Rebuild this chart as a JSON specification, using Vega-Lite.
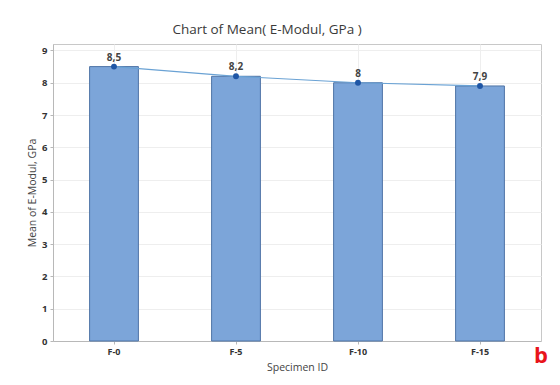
{
  "$schema": "https://vega.github.io/schema/vega-lite/v6.json",
  "width": 488,
  "height": 297,
  "autosize": {"type": "none"},
  "padding": {"left": 53, "top": 44, "right": 19, "bottom": 44},
  "background": "white",
  "title": {
    "text": "Chart of Mean( E-Modul, GPa )",
    "font": "Open Sans",
    "fontSize": 13.5,
    "fontWeight": "normal",
    "color": "#3a3a3a",
    "anchor": "middle",
    "dx": -30,
    "offset": 8
  },
  "data": {
    "values": [
      {"specimen": "F-0", "mean": 8.5},
      {"specimen": "F-5", "mean": 8.2},
      {"specimen": "F-10", "mean": 8.0},
      {"specimen": "F-15", "mean": 7.9}
    ]
  },
  "encoding": {
    "x": {
      "field": "specimen",
      "type": "nominal",
      "sort": null,
      "scale": {"paddingInner": 0.6, "paddingOuter": 0.3},
      "axis": {
        "title": "Specimen ID",
        "labelAngle": 0,
        "labelFont": "Open Sans",
        "labelFontSize": 9,
        "labelColor": "#333",
        "labelFontWeight": "bold",
        "titleFont": "Open Sans",
        "titleFontSize": 10.5,
        "titleFontWeight": "normal",
        "titleColor": "#444",
        "titlePadding": 6,
        "domainColor": "#b8b8b8",
        "tickColor": "#b8b8b8",
        "tickSize": 3,
        "labelPadding": 3,
        "grid": true,
        "gridColor": "#eeeeee"
      }
    },
    "y": {
      "field": "mean",
      "type": "quantitative",
      "scale": {"domain": [0, 9.2], "nice": false},
      "axis": {
        "title": "Mean of E-Modul, GPa",
        "values": [0, 1, 2, 3, 4, 5, 6, 7, 8, 9],
        "labelFont": "Open Sans",
        "labelFontSize": 9.5,
        "labelColor": "#333",
        "labelFontWeight": "bold",
        "titleFont": "Open Sans",
        "titleFontSize": 10.5,
        "titleFontWeight": "normal",
        "titleColor": "#444",
        "titlePadding": 4,
        "domainColor": "#b8b8b8",
        "tickColor": "#b8b8b8",
        "tickSize": 3,
        "labelPadding": 3,
        "gridColor": "#eeeeee"
      }
    }
  },
  "layer": [
    {
      "mark": {"type": "bar", "color": "#7ca5d9", "stroke": "#4f74a6", "strokeWidth": 1}
    },
    {
      "mark": {"type": "line", "color": "#6aa2d4", "strokeWidth": 1.2}
    },
    {
      "mark": {"type": "point", "filled": true, "color": "#1f56a5", "size": 35, "opacity": 1}
    },
    {
      "mark": {"type": "text", "dy": -9, "font": "Open Sans", "fontSize": 10, "fontWeight": "bold", "color": "#444"},
      "encoding": {"text": {"field": "mean", "type": "quantitative", "format": ".2~f"}}
    },
    {
      "transform": [{"filter": "datum.specimen === 'F-15'"}],
      "mark": {"type": "text", "font": "Open Sans", "fontSize": 22, "fontWeight": "bold", "color": "#e8141b", "dx": 61, "dy": 15, "text": "b"},
      "encoding": {
        "y": {"datum": 0, "type": "quantitative"}
      }
    }
  ],
  "config": {
    "locale": {"number": {"decimal": ",", "thousands": ".", "grouping": [3], "currency": ["", " €"]}},
    "view": {"stroke": "#c8c8c8", "strokeWidth": 1}
  }
}
